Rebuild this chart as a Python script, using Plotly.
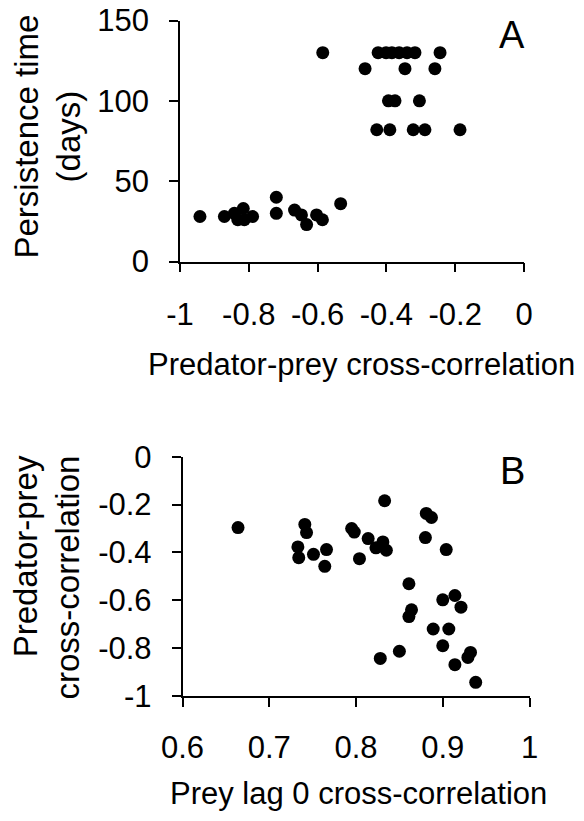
import plotly.graph_objects as go

# Panel A: predator-prey cross-correlation vs persistence time (days)
a_cross_corr = [-0.942, -0.871, -0.842, -0.832, -0.816, -0.813, -0.789, -0.720, -0.720,
                -0.667, -0.647, -0.632, -0.603, -0.586, -0.533,
                -0.585, -0.424, -0.401, -0.384, -0.363, -0.340, -0.317, -0.244,
                -0.462, -0.346, -0.259,
                -0.394, -0.375, -0.304,
                -0.428, -0.390, -0.322, -0.288, -0.186]
a_persistence = [28, 28, 30, 26, 33, 26, 28, 40, 30,
                 32, 29, 23, 29, 26, 36,
                 130, 130, 130, 130, 130, 130, 130, 130,
                 120, 120, 120,
                 100, 100, 100,
                 82, 82, 82, 82, 82]

# Panel B: prey lag 0 cross-correlation vs predator-prey cross-correlation
b_prey_lag0 = [0.664, 0.741, 0.743, 0.733, 0.734, 0.751, 0.766, 0.764, 0.795, 0.798,
               0.804, 0.814, 0.823, 0.831, 0.835, 0.833, 0.881, 0.887, 0.880, 0.904,
               0.861, 0.864, 0.861, 0.828, 0.850, 0.889, 0.907, 0.900, 0.900, 0.914,
               0.921, 0.914, 0.929, 0.932, 0.938]
b_cross_corr = [-0.296, -0.283, -0.317, -0.377, -0.422, -0.408, -0.388, -0.458, -0.300, -0.315,
                -0.426, -0.342, -0.381, -0.356, -0.391, -0.184, -0.237, -0.254, -0.338, -0.388,
                -0.531, -0.640, -0.668, -0.843, -0.813, -0.720, -0.720, -0.790, -0.598, -0.580,
                -0.629, -0.869, -0.839, -0.818, -0.943]

a_xticks = [-1, -0.8, -0.6, -0.4, -0.2, 0]
a_xticklabels = ["-1", "-0.8", "-0.6", "-0.4", "-0.2", "0"]
a_yticks = [0, 50, 100, 150]
b_xticks = [0.6, 0.7, 0.8, 0.9, 1]
b_xticklabels = ["0.6", "0.7", "0.8", "0.9", "1"]
b_yticks = [0, -0.2, -0.4, -0.6, -0.8, -1]
b_yticklabels = ["0", "-0.2", "-0.4", "-0.6", "-0.8", "-1"]

FONT = "Liberation Sans, Arial, sans-serif"
OFF = 8  # default page body margin
W, H = 584 - OFF, 821 - OFF


def px_x(x):
    return (x - OFF) / W


def px_y(y):
    return 1 - (y - OFF) / H


fig = go.Figure()
marker = dict(color="black", size=13, line=dict(width=0))
fig.add_trace(go.Scatter(x=a_cross_corr, y=a_persistence, mode="markers", marker=marker,
                         xaxis="x", yaxis="y", cliponaxis=False, showlegend=False))
fig.add_trace(go.Scatter(x=b_prey_lag0, y=b_cross_corr, mode="markers", marker=marker,
                         xaxis="x2", yaxis="y2", cliponaxis=False, showlegend=False))

axis_common = dict(showgrid=False, zeroline=False, showline=True, linecolor="black",
                   linewidth=1.5, ticks="outside", ticklen=9, tickwidth=1.5,
                   tickcolor="black", tickfont=dict(family=FONT, size=31, color="black"),
                   automargin=False, ticklabeloverflow="allow")

fig.update_layout(
    width=W, height=H,
    margin=dict(l=0, r=0, t=0, b=0, autoexpand=False),
    paper_bgcolor="white", plot_bgcolor="white",
    xaxis=dict(domain=[px_x(180), px_x(524)], range=[-1, 0], tickvals=a_xticks,
               ticktext=a_xticklabels, anchor="y", ticklabelstandoff=16, **axis_common),
    yaxis=dict(domain=[px_y(261.5), px_y(20.5)], range=[0, 150], tickvals=a_yticks,
               anchor="x", ticklabelstandoff=14, **axis_common),
    xaxis2=dict(domain=[px_x(182.5), px_x(529.5)], range=[0.6, 1], tickvals=b_xticks,
                ticktext=b_xticklabels, anchor="y2", ticklabelstandoff=14, **axis_common),
    yaxis2=dict(domain=[px_y(696), px_y(456.7)], range=[-1, 0], tickvals=b_yticks,
                ticktext=b_yticklabels, anchor="x2", ticklabelstandoff=14, **axis_common),
)


def ann(text, x, y, size, angle=0, align="center"):
    fig.add_annotation(text=text, x=px_x(x), y=px_y(y), xref="paper", yref="paper",
                       showarrow=False, textangle=angle, align=align,
                       xanchor="center", yanchor="middle",
                       font=dict(family=FONT, size=size, color="black"))


ann("Predator-prey cross-correlation", 361.5, 364, 31)
ann("Prey lag 0 cross-correlation", 358.5, 793, 31)
ann("Persistence time<br>(days)", 47.5, 137, 33, angle=-90)
ann("Predator-prey<br>cross-correlation", 46.5, 578, 33, angle=-90, align="right")
ann("A", 512, 35, 38)
ann("B", 512, 471, 38)

fig.write_html("out.html")
